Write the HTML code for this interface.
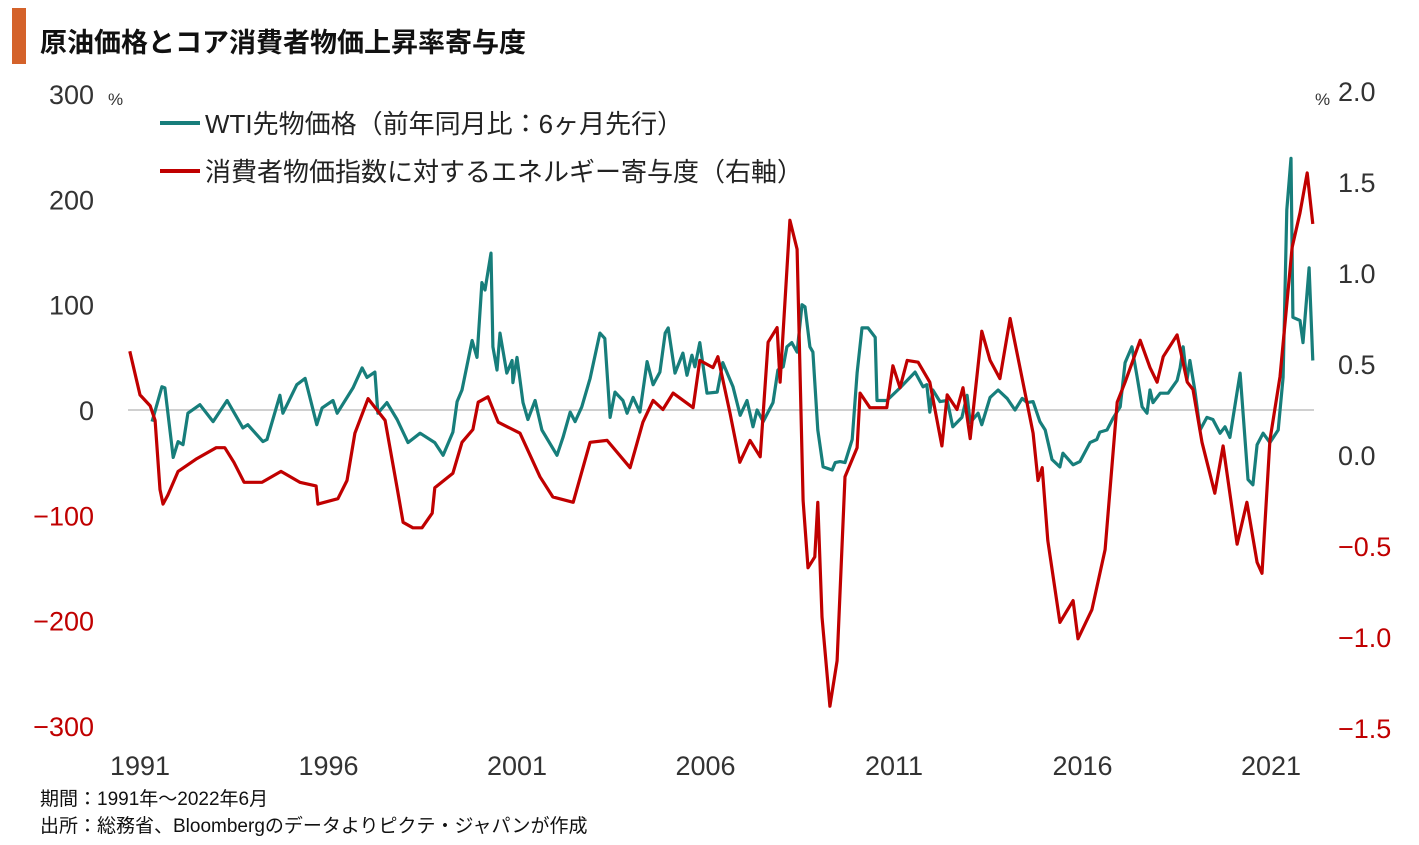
<!DOCTYPE html>
<html><head><meta charset="utf-8">
<style>
body{margin:0;background:#fff;width:1419px;height:840px;overflow:hidden;font-family:"Liberation Sans","Noto Sans CJK JP",sans-serif;}
svg text{font-family:"Liberation Sans","Noto Sans CJK JP",sans-serif;}
</style></head>
<body>
<svg id="chart" width="1419" height="840">
<rect x="12" y="8" width="14" height="56" fill="#d4622a"/>
<text x="40" y="52" font-size="27" fill="#111" font-weight="bold">原油価格とコア消費者物価上昇率寄与度</text>
<g id="axes"></g>
<g id="lines"></g>
<g>
<line x1="160" y1="123" x2="200" y2="123" stroke="#177e7b" stroke-width="4"/>
<text x="205" y="133" font-size="26" fill="#222">WTI先物価格（前年同月比：6ヶ月先行）</text>
<line x1="160" y1="171" x2="200" y2="171" stroke="#c00000" stroke-width="4"/>
<text x="205" y="181" font-size="26" fill="#222">消費者物価指数に対するエネルギー寄与度（右軸）</text>
</g>
<text x="40" y="805" font-size="19" fill="#111">期間：1991年～2022年6月</text>
<text x="40" y="832" font-size="19" fill="#111">出所：総務省、Bloombergのデータよりピクテ・ジャパンが作成</text>
</svg>
<script>
const leftTicks=[300,200,100,0,-100,-200,-300];
const rightTicks=[2.0,1.5,1.0,0.5,0.0,-0.5,-1.0,-1.5];
const xTicks=[1991,1996,2001,2006,2011,2016,2021];
const wtiDates=[1991.32,1991.58,1991.66,1991.88,1992.01,1992.14,1992.27,1992.59,1992.94,1993.31,1993.73,1993.86,1994.26,1994.37,1994.71,1994.79,1995.16,1995.38,1995.69,1995.83,1996.12,1996.23,1996.65,1996.89,1997.02,1997.23,1997.31,1997.55,1997.82,1998.11,1998.43,1998.82,1999.04,1999.30,1999.41,1999.54,1999.81,1999.94,2000.07,2000.15,2000.31,2000.36,2000.47,2000.55,2000.73,2000.87,2000.89,2001.00,2001.16,2001.29,2001.48,2001.66,2002.06,2002.22,2002.41,2002.54,2002.72,2002.94,2003.20,2003.33,2003.47,2003.60,2003.81,2003.92,2004.08,2004.26,2004.45,2004.61,2004.79,2004.93,2005.01,2005.19,2005.40,2005.51,2005.64,2005.72,2005.85,2006.04,2006.31,2006.46,2006.73,2006.92,2007.10,2007.26,2007.37,2007.53,2007.79,2007.92,2008.06,2008.16,2008.29,2008.43,2008.56,2008.64,2008.77,2008.85,2008.98,2009.12,2009.36,2009.44,2009.57,2009.70,2009.89,2010.02,2010.15,2010.31,2010.50,2010.55,2010.81,2011.16,2011.56,2011.77,2011.87,2011.95,2012.03,2012.22,2012.41,2012.56,2012.80,2012.94,2013.02,2013.23,2013.33,2013.55,2013.76,2014.00,2014.21,2014.40,2014.53,2014.69,2014.87,2015.01,2015.19,2015.40,2015.48,2015.75,2015.93,2016.20,2016.38,2016.46,2016.65,2016.81,2017.00,2017.13,2017.31,2017.45,2017.58,2017.71,2017.79,2017.87,2018.06,2018.27,2018.51,2018.59,2018.67,2018.77,2018.85,2018.98,2019.12,2019.30,2019.46,2019.65,2019.78,2019.91,2020.18,2020.39,2020.52,2020.63,2020.79,2020.97,2021.19,2021.32,2021.42,2021.53,2021.58,2021.77,2021.85,2022.01,2022.11];
const wtiValues=[-11,22,21,-45,-30,-33,-3,5,-11,9,-17,-14,-30,-28,14,-3,24,30,-14,2,9,-3,21,40,31,36,-3,7,-9,-31,-22,-31,-43,-21,8,19,66,50,121,114,149,60,38,73,35,47,26,50,7,-9,9,-19,-43,-26,-2,-11,3,30,73,68,-7,17,9,-3,12,-2,46,24,36,73,78,35,54,33,52,41,64,16,17,45,22,-5,9,-16,0,-11,7,38,41,60,64,55,100,98,60,55,-19,-54,-57,-50,-49,-50,-28,35,78,78,69,9,9,21,36,22,24,-2,19,8,9,-16,-7,14,-12,-3,-14,12,19,11,0,11,7,8,-11,-19,-47,-54,-41,-52,-49,-31,-28,-21,-19,-8,3,45,60,31,3,-3,19,7,16,16,28,40,60,28,47,19,-19,-7,-9,-22,-16,-26,35,-66,-71,-33,-22,-31,-19,31,190,239,88,85,64,135,47];
const cpiDates=[1990.73,1991.0,1991.27,1991.40,1991.53,1991.61,1991.74,1992.01,1992.51,1993.02,1993.25,1993.49,1993.76,1994.24,1994.74,1995.24,1995.67,1995.72,1996.25,1996.49,1996.70,1997.05,1997.50,1997.82,1997.98,1998.24,1998.48,1998.75,1998.82,1999.30,1999.54,1999.83,1999.97,2000.23,2000.50,2001.08,2001.61,2001.95,2002.49,2002.94,2003.39,2004.00,2004.34,2004.61,2004.87,2005.14,2005.67,2005.85,2006.20,2006.33,2006.65,2006.91,2007.18,2007.45,2007.66,2007.90,2007.98,2008.24,2008.43,2008.59,2008.72,2008.90,2008.98,2009.09,2009.30,2009.49,2009.70,2010.02,2010.10,2010.36,2010.81,2010.97,2011.16,2011.35,2011.64,2011.95,2012.27,2012.41,2012.67,2012.83,2013.02,2013.33,2013.55,2013.81,2014.08,2014.42,2014.69,2014.82,2014.93,2015.08,2015.40,2015.75,2015.88,2016.25,2016.60,2016.92,2017.13,2017.53,2017.79,2017.98,2018.14,2018.51,2018.78,2018.93,2019.17,2019.51,2019.73,2020.10,2020.36,2020.63,2020.76,2020.97,2021.24,2021.56,2021.77,2021.96,2022.11];
const cpiValues=[0.57,0.33,0.27,0.19,-0.19,-0.27,-0.22,-0.09,-0.02,0.04,0.04,-0.04,-0.15,-0.15,-0.09,-0.15,-0.17,-0.27,-0.24,-0.14,0.12,0.31,0.19,-0.18,-0.37,-0.40,-0.40,-0.32,-0.18,-0.10,0.07,0.14,0.29,0.32,0.18,0.12,-0.12,-0.23,-0.26,0.07,0.08,-0.07,0.18,0.30,0.25,0.34,0.26,0.52,0.48,0.54,0.23,-0.04,0.08,-0.01,0.62,0.70,0.40,1.29,1.13,-0.25,-0.62,-0.56,-0.26,-0.89,-1.38,-1.13,-0.12,0.04,0.34,0.26,0.26,0.49,0.37,0.52,0.51,0.40,0.05,0.33,0.25,0.37,0.09,0.68,0.52,0.42,0.75,0.40,0.12,-0.14,-0.07,-0.47,-0.92,-0.80,-1.01,-0.85,-0.52,0.29,0.40,0.63,0.48,0.40,0.54,0.66,0.40,0.36,0.07,-0.21,0.05,-0.49,-0.26,-0.59,-0.65,0.08,0.43,1.14,1.33,1.55,1.27];

const NS='http://www.w3.org/2000/svg';
const xS=y=>140+(y-1991)*37.7;
const yL=v=>410-v*1.053;
const yR=v=>455-v*182;
const axes=document.getElementById('axes');
const lines=document.getElementById('lines');
function mk(tag,attrs,parent){const e=document.createElementNS(NS,tag);for(const k in attrs)e.setAttribute(k,attrs[k]);parent.appendChild(e);return e;}

const zl=mk('line',{x1:128,x2:1314,y1:yL(0),y2:yL(0),stroke:'#d0d0d0','stroke-width':2},axes);



leftTicks.forEach(v=>{
  const t=mk('text',{x:94,y:yL(v)+10,'font-size':27,'text-anchor':'end',fill:v<0?'#c00000':'#333'},axes);
  t.textContent=v<0?'−'+Math.abs(v):String(v);
  
  
});
rightTicks.forEach(v=>{
  const t=mk('text',{x:1338,y:yR(v)+10,'font-size':27,fill:v<0?'#c00000':'#333'},axes);
  t.textContent=v<0?'−'+Math.abs(v).toFixed(1):v.toFixed(1);
  
  
});
const lu=mk('text',{x:108,y:105,'font-size':17,fill:'#333'},axes);lu.textContent='%';


const ru=mk('text',{x:1315,y:105,'font-size':17,fill:'#333'},axes);ru.textContent='%';


xTicks.forEach(y=>{
  const t=mk('text',{x:xS(y),y:775,'font-size':27,'text-anchor':'middle',fill:'#333'},axes);
  t.textContent=String(y);
  
  
});

const wp=mk('path',{d:wtiDates.map((d,i)=>(i?'L':'M')+xS(d).toFixed(1)+','+yL(wtiValues[i]).toFixed(1)).join(''),fill:'none',stroke:'#177e7b','stroke-width':3.2,'stroke-linejoin':'round'},lines);


const cp=mk('path',{d:cpiDates.map((d,i)=>(i?'L':'M')+xS(d).toFixed(1)+','+yR(cpiValues[i]).toFixed(1)).join(''),fill:'none',stroke:'#c00000','stroke-width':3.2,'stroke-linejoin':'round'},lines);


</script>
</body></html>
